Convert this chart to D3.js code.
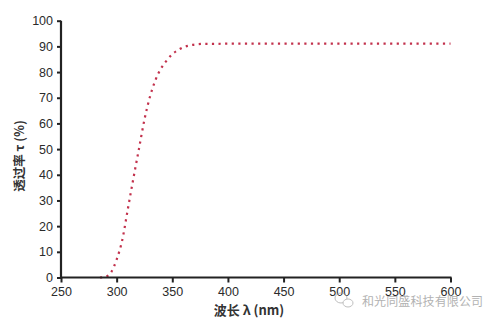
<!DOCTYPE html>
<html><head><meta charset="utf-8">
<script src="https://cdn.jsdelivr.net/npm/d3@7"></script>
<style>body{margin:0;background:#fff;}svg{display:block;}</style>
</head><body>
<svg id="c" width="500" height="323"></svg>
<script>
const wavelengths = [285,290,295,300,305,310,315,320,325,330,335,340,345,350,355,360,365,370,380,390,400,450,500,550,600];
const transmittance = [0,0.3,2,7,14.5,26.5,38.5,50,61.5,70.5,77,81.5,84.5,87,88.5,89.7,90.3,90.7,91,91,91.1,91.1,91.1,91.1,91.1];
const xTicks = [250,300,350,400,450,500,550,600];
const yTicks = [0,10,20,30,40,50,60,70,80,90,100];
const xTitle = "波长 λ (nm)";
const yTitle = "透过率 τ (%)";
const watermark = "和光同盛科技有限公司";

const svg = d3.select("#c");
const x = d3.scaleLinear().domain([250,600]).range([61,450.5]);
const y = d3.scaleLinear().domain([0,100]).range([277.5,20.7]);
const font = "'Liberation Sans', Arial, sans-serif";

const data = wavelengths.map((w,i)=>({w, t: transmittance[i]}));
const line = d3.line().x(d=>x(d.w)).y(d=>y(d.t)).curve(d3.curveMonotoneX);
svg.append("path").datum(data).attr("d", line)
  .attr("fill","none").attr("stroke","#c2314c").attr("stroke-width",2.2)
  .attr("stroke-dasharray","2.2,4.4");

const xAxis = svg.append("g").attr("transform",`translate(0,${y(0)})`)
  .call(d3.axisBottom(x).tickValues(xTicks).tickSize(5).tickSizeOuter(0).tickPadding(5));
const yAxis = svg.append("g").attr("transform",`translate(${x(250)},0)`)
  .call(d3.axisLeft(y).tickValues(yTicks).tickSize(4).tickSizeOuter(0).tickPadding(4));
[xAxis,yAxis].forEach(g=>{
  g.select(".domain").attr("stroke","#222").attr("stroke-width",2.2);
  g.selectAll(".tick line").attr("stroke","#222").attr("stroke-width",2);
  g.selectAll(".tick text").attr("fill","#2b2b2b").attr("font-size",12.5).attr("font-family",font);
});
xAxis.select(".domain").attr("d", `M${x(250)-1},0H${x(600)+1}`);
yAxis.select(".domain").attr("d", `M0,${y(100)}V${y(0)+1}`);

svg.append("text").attr("x",249).attr("y",315).attr("text-anchor","middle")
  .attr("font-family","'Noto Sans CJK SC', "+font).attr("font-size",13).attr("font-weight","bold")
  .attr("fill","#333").text(xTitle);
svg.append("text").attr("transform","translate(24,156) rotate(-90)").attr("text-anchor","middle")
  .attr("font-family","'Noto Sans CJK SC', "+font).attr("font-size",12.5).attr("font-weight","bold")
  .attr("fill","#333").text(yTitle);

// watermark
const wm = svg.append("g").attr("opacity",0.75);
wm.append("ellipse").attr("cx",341).attr("cy",298).attr("rx",6).attr("ry",5)
  .attr("fill","none").attr("stroke","#aaa").attr("stroke-width",1);
wm.append("ellipse").attr("cx",348).attr("cy",303).attr("rx",5).attr("ry",4)
  .attr("fill","#fff").attr("stroke","#aaa").attr("stroke-width",1);
wm.append("text").attr("x",362).attr("y",305.5).attr("font-family","'Noto Sans CJK SC', sans-serif")
  .attr("font-size",12).attr("fill","#999").attr("textLength",121).text(watermark);
</script>
</body></html>
